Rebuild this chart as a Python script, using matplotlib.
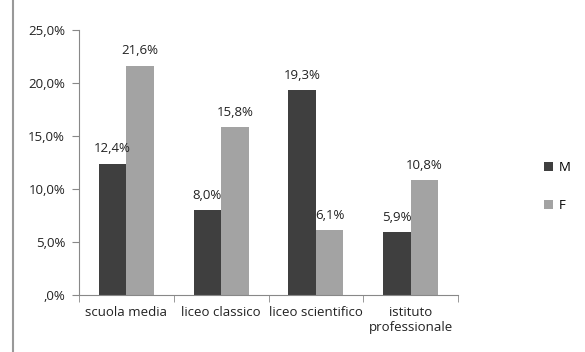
import numpy as np
import matplotlib.pyplot as plt
from matplotlib.lines import Line2D
from matplotlib.ticker import FuncFormatter

categories = ['scuola media', 'liceo classico', 'liceo scientifico', 'istituto\nprofessionale']
male = [12.4, 8.0, 19.3, 5.9]
female = [21.6, 15.8, 6.1, 10.8]

plt.rcParams['font.family'] = ['Open Sans', 'DejaVu Sans']
fig = plt.figure(figsize=(5.85, 3.52), dpi=100)
ax = fig.add_axes([0.135, 0.162, 0.648, 0.753])

x = np.arange(len(categories))
w = 0.29
bm = ax.bar(x - w/2, male, w, color='#3f3f3f', label='M')
bf = ax.bar(x + w/2, female, w, color='#a3a3a3', label='F')

for rects, vals in ((bm, male), (bf, female)):
    for r, v in zip(rects, vals):
        ax.text(r.get_x() + r.get_width()/2, v + 0.8, f'{v:.1f}%'.replace('.', ','),
                ha='center', va='bottom', fontsize=9.5, color='#222222')

ax.set_xlim(-0.5, len(categories) - 0.5)
ax.set_ylim(0, 25)
ax.set_yticks(np.arange(0, 25.1, 5))
ax.yaxis.set_major_formatter(FuncFormatter(lambda v, p: ',0%' if v == 0 else f'{v:.1f}%'.replace('.', ',')))
ax.set_xticks(x)
ax.set_xticklabels(categories)
ax.set_xticks(np.arange(-0.5, len(categories)), minor=True)
ax.tick_params(axis='x', which='major', length=0, pad=8, labelsize=9.5, colors='#222222')
ax.tick_params(axis='x', which='minor', length=5, color='#888888')
ax.tick_params(axis='y', length=5, color='#888888', labelsize=9.5, labelcolor='#222222', pad=5)
for s in ('top', 'right'):
    ax.spines[s].set_visible(False)
for s in ('left', 'bottom'):
    ax.spines[s].set_color('#888888')

ax.legend(loc='center left', bbox_to_anchor=(1.195, 0.41), frameon=False, fontsize=9.5,
          handlelength=0.7, handleheight=0.7, handletextpad=0.4, labelspacing=1.9)

fig.add_artist(Line2D([13/585, 13/585], [0, 1], color='#999999', lw=1.5))

plt.savefig('out.png')
